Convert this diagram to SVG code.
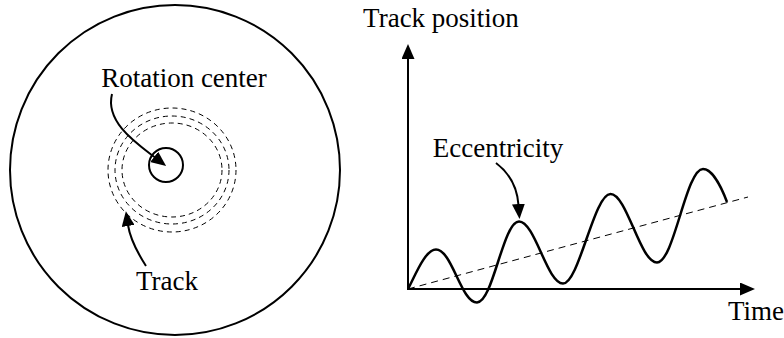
<svg xmlns="http://www.w3.org/2000/svg" width="784" height="338" viewBox="0 0 784 338">
<style>
  text { font-family: "Liberation Serif", "Times New Roman", serif; font-size: 27px; fill: #000; }
  .line { fill: none; stroke: #000; stroke-width: 2; }
  .dash { fill: none; stroke: #000; stroke-width: 1; stroke-dasharray: 5 4; }
  .trend { fill: none; stroke: #000; stroke-width: 1; stroke-dasharray: 7 5; }
  .wave { fill: none; stroke: #000; stroke-width: 2.5; }
</style>
<defs>
  <marker id="ah" markerUnits="userSpaceOnUse" viewBox="0 0 15 13" markerWidth="15" markerHeight="13" refX="1" refY="6.5" orient="auto">
    <path d="M0,0 L15,6.5 L0,13 z" fill="#000"/>
  </marker>
</defs>
<rect width="784" height="338" fill="#fff"/>

<g id="disk">
  <circle cx="175" cy="170" r="165" class="line"/>
  <circle cx="166" cy="165" r="17" class="line"/>
  <ellipse cx="172" cy="170" rx="64" ry="62" class="dash"/>
  <ellipse cx="172" cy="170" rx="57" ry="54" class="dash"/>
  <ellipse cx="172" cy="170" rx="50" ry="47" class="dash"/>
</g>

<g id="label-rotation"><text x="184" y="87" text-anchor="middle">Rotation center</text></g>
<g id="label-track"><text x="167" y="290" text-anchor="middle">Track</text></g>
<g id="label-trackpos"><text x="441" y="27" text-anchor="middle">Track position</text></g>
<g id="label-ecc"><text x="498" y="157" text-anchor="middle">Eccentricity</text></g>
<g id="label-time"><text x="728" y="320">Time</text></g>

<g id="plot">
  <path class="trend" d="M408,289 L748,197"/>
  <path class="wave" d="M408,289 C415,276 425,249.5 436,249.5 C452,249.5 461,302.5 477,302.5 C493,302.5 503,221.5 519,221.5 C535,221.5 547,283.5 563,283.5 C579,283.5 594,194 610.5,194 C627,194 640,262.5 657,262.5 C674,262.5 686,169 703,169 C712,169 721,186 727,202"/>
</g>

<g id="connectors">
  <path class="line" d="M408,289 L408,58" marker-end="url(#ah)"/>
  <path class="line" d="M407,289 L741,289" marker-end="url(#ah)"/>
  <path class="line" d="M112,94 C105,122 136,143 155,157.5" marker-end="url(#ah)"/>
  <path class="line" d="M146,266 C137,252 130,238 128,225" marker-end="url(#ah)"/>
  <path class="line" d="M496,163 C508,172 517,185 518.5,205" marker-end="url(#ah)"/>
</g>
</svg>
